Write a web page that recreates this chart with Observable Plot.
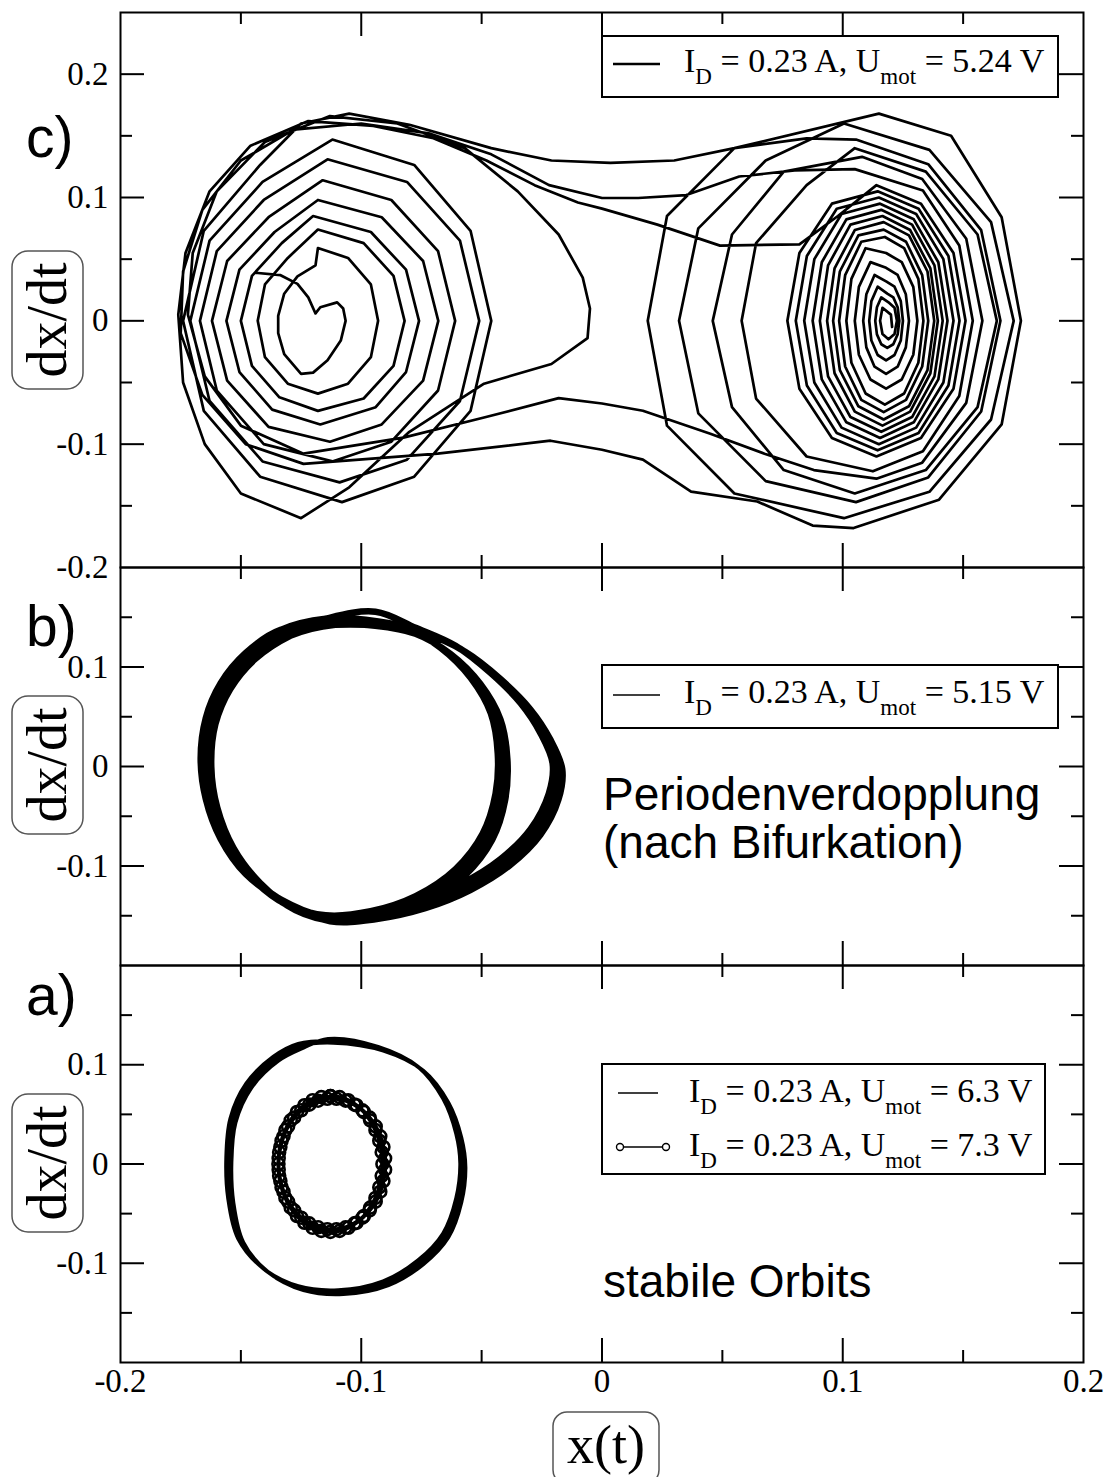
<!DOCTYPE html>
<html><head><meta charset="utf-8">
<script src="https://cdn.jsdelivr.net/npm/d3@7"></script>
<script src="https://cdn.jsdelivr.net/npm/@observablehq/plot@0.6"></script>
<style>
html,body{margin:0;padding:0;background:#fff;}
#fig{position:relative;width:1109px;height:1477px;overflow:hidden;background:#fff;}
.pn{position:absolute;left:0;}
</style></head><body><div id="fig"></div>
<script>
// ---------- axes ----------
const X_DOMAIN = [-0.2, 0.2];
const xMajorTicks = [-0.1, 0, 0.1];
const xMinorTicks = [-0.15, -0.05, 0.05, 0.15];
const xTickValues = [-0.2, -0.1, 0, 0.1, 0.2];
const xTickLabels = ["-0.2", "-0.1", "0", "0.1", "0.2"];

const cYDomain = [-0.2, 0.25];
const cYMajor = [0.2, 0.1, 0, -0.1];
const cYMinor = [0.15, 0.05, -0.05, -0.15];
const cYTickValues = [0.2, 0.1, 0, -0.1, -0.2];
const cYTickLabels = ["0.2", "0.1", "0", "-0.1", "-0.2"];

const bYDomain = [-0.2, 0.2];
const bYMajor = [0.1, 0, -0.1];
const bYMinor = [0.15, 0.05, -0.05, -0.15];
const bYTickValues = [0.1, 0, -0.1];
const bYTickLabels = ["0.1", "0", "-0.1"];

const aYDomain = [-0.2, 0.2];
const aYMajor = [0.1, 0, -0.1];
const aYMinor = [0.15, 0.05, -0.05, -0.15];
const aYTickValues = [0.1, 0, -0.1];
const aYTickLabels = ["0.1", "0", "-0.1"];

// ---------- texts ----------
const panelLetters = ["c)", "b)", "a)"];
const yAxisLabel = "dx/dt";
const xAxisLabel = "x(t)";
const legendC = ["5.24"];
const legendB = ["5.15"];
const legendA = ["6.3", "7.3"];
const noteB = ["Periodenverdopplung", "(nach Bifurkation)"];
const noteA = ["stabile Orbits"];

// ---------- panel c: U_mot = 5.24 V (x, dx/dt) ----------
const cOrbit = [
[-0.144,0.039],[-0.1335,0.037],[-0.1265,0.030],[-0.122,0.019],[-0.119,0.006],[-0.117,0.011],[-0.110,0.015],[-0.1075,0.010],[-0.1065,0.000],[-0.1085,-0.016],[-0.114,-0.032],[-0.120,-0.042],[-0.125,-0.043],[-0.132,-0.027],[-0.1345,-0.010],[-0.1345,0.004],[-0.132,0.022],[-0.1265,0.036],[-0.119,0.045],
[-0.118,0.059],[-0.1055,0.051],[-0.096,0.0295],[-0.093,0.0],[-0.096,-0.0295],[-0.1055,-0.051],[-0.118,-0.059],[-0.1305,-0.051],[-0.140,-0.0295],[-0.143,0.0],[-0.140,0.0295],[-0.1305,0.051],
[-0.118,0.074],[-0.099,0.063],[-0.0866,0.0365],[-0.082,0.0],[-0.0866,-0.0365],[-0.099,-0.063],[-0.118,-0.073],[-0.134,-0.062],[-0.1454,-0.0365],[-0.150,0.0],[-0.1454,0.0365],[-0.133,0.063],
[-0.120,0.085],[-0.096,0.072],[-0.0814,0.0415],[-0.076,0.0],[-0.0814,-0.0415],[-0.094,-0.070],[-0.117,-0.084],[-0.137,-0.072],[-0.1506,-0.0415],[-0.156,0.0],[-0.1506,0.0415],[-0.136,0.072],
[-0.118,0.098],[-0.0915,0.084],[-0.0743,0.0485],[-0.068,0.0],[-0.0743,-0.0485],[-0.0915,-0.084],[-0.113,-0.098],[-0.1385,-0.086],[-0.1557,-0.0485],[-0.162,0.0],[-0.1557,0.0485],[-0.1385,0.084],
[-0.116,0.114],[-0.0875,0.098],[-0.0681,0.0565],[-0.061,0.0],[-0.0681,-0.0565],[-0.0875,-0.098],[-0.112,-0.114],[-0.1405,-0.100],[-0.160,-0.0565],[-0.167,0.0],[-0.160,0.0565],[-0.1405,0.098],
[-0.114,0.131],[-0.081,0.1126],[-0.059,0.065],[-0.051,0.0],[-0.059,-0.065],[-0.081,-0.1126],[-0.109,-0.131],[-0.141,-0.114],[-0.163,-0.065],[-0.171,0.0],[-0.163,0.065],[-0.141,0.1126],
[-0.112,0.147],[-0.078,0.1264],[-0.0546,0.073],[-0.046,0.0],[-0.0546,-0.073],[-0.078,-0.1264],[-0.108,-0.147],[-0.142,-0.1264],[-0.1654,-0.073],[-0.174,0.0],[-0.1654,0.073],[-0.142,0.1264],
[-0.125,0.160],[-0.105,0.168],[-0.080,0.159],[-0.046,0.140],[-0.021,0.130],[0.0035,0.128],[0.030,0.130],[0.055,0.140],[0.085,0.148],[0.1055,0.147],
[0.1355,0.127],[0.1575,0.0735],[0.1655,0.0],[0.1575,-0.0735],[0.1355,-0.127],[0.1055,-0.147],[0.068,-0.130],[0.040,-0.075],[0.032,0.0],[0.040,0.075],[0.068,0.130],
[0.1005,0.160],[0.136,0.1386],[0.1616,0.080],[0.171,0.0],[0.1616,-0.080],[0.136,-0.1386],[0.1005,-0.160],[0.055,-0.140],[0.027,-0.085],[0.019,0.0],[0.027,0.085],[0.055,0.140],
[0.115,0.168],[0.145,0.150],[0.166,0.084],[0.174,0.0],[0.166,-0.084],[0.140,-0.145],[0.1045,-0.168],
[0.0875,-0.166],[0.0645,-0.1465],[0.037,-0.1385],[0.017,-0.1125],[0.0,-0.1045],[-0.0214,-0.0972],[-0.0683,-0.1077],[-0.124,-0.116],
[-0.148,-0.100],[-0.166,-0.060],[-0.175,-0.010],[-0.174,0.040],[-0.166,0.090],[-0.150,0.130],[-0.128,0.155],[-0.100,0.160],
[-0.072,0.152],[-0.046,0.135],[-0.022,0.110],[0.0,0.0996],[0.015,0.0996],[0.035,0.102],[0.057,0.117],[0.080,0.122],[0.105,0.123],
[0.1333,0.1057],[0.1484,0.061],[0.154,0.0],[0.1484,-0.061],[0.1333,-0.1057],[0.1125,-0.122],[0.085,-0.110],[0.064,-0.063],[0.058,0.0],[0.064,0.063],[0.085,0.110],
[0.105,0.140],[0.1345,0.121],[0.156,0.070],[0.164,0.0],[0.156,-0.070],[0.1345,-0.121],[0.105,-0.140],[0.0755,-0.121],[0.054,-0.070],[0.046,0.0],[0.054,0.070],[0.0755,0.121],
[0.108,0.133],[0.133,0.115],[0.1513,0.0665],[0.158,0.0],[0.1513,-0.0665],[0.133,-0.115],[0.114,-0.128],
[0.088,-0.121],[0.0675,-0.1077],[0.045,-0.0915],[0.017,-0.0729],[0.0,-0.067],[-0.018,-0.0627],[-0.049,-0.0784],[-0.0825,-0.0947],[-0.124,-0.1077],
[-0.150,-0.085],[-0.165,-0.045],[-0.172,0.005],[-0.170,0.055],[-0.160,0.105],[-0.140,0.145],[-0.113,0.166],[-0.085,0.160],[-0.057,0.140],[-0.035,0.105],[-0.018,0.070],[-0.008,0.035],[-0.005,0.010],[-0.006,-0.014],[-0.021,-0.035],[-0.049,-0.051],[-0.080,-0.090],[-0.105,-0.135],[-0.125,-0.160],[-0.150,-0.140],[-0.165,-0.100],[-0.174,-0.050],[-0.176,0.005],[-0.173,0.055],[-0.163,0.105],[-0.146,0.142],[-0.122,0.162],[-0.095,0.158],
[-0.070,0.148],[-0.048,0.130],[-0.028,0.110],[-0.010,0.096],[0.0,0.091],[0.023,0.078],[0.049,0.061],[0.082,0.062],[0.098,0.085],[0.114,0.110],
[0.1325,0.095],[0.146,0.055],[0.151,0.0],[0.146,-0.055],[0.1325,-0.095],[0.114,-0.110],[0.0955,-0.095],[0.082,-0.055],[0.077,0.0],[0.082,0.055],[0.0955,0.095],
[0.1145,0.105],[0.1315,0.0909],[0.1439,0.0525],[0.1485,0.0],[0.1439,-0.0525],[0.1315,-0.0909],[0.1145,-0.105],[0.0975,-0.0909],[0.0851,-0.0525],[0.0805,0.0],[0.0851,0.0525],[0.0975,0.0909],
[0.115,0.100],[0.1305,0.0866],[0.1418,0.050],[0.146,0.0],[0.1418,-0.050],[0.1305,-0.0866],[0.115,-0.100],[0.0995,-0.0866],[0.0882,-0.050],[0.084,0.0],[0.0882,0.050],[0.0995,0.0866],
[0.1155,0.095],[0.1295,0.0823],[0.1397,0.0475],[0.1435,0.0],[0.1397,-0.0475],[0.1295,-0.0823],[0.1155,-0.095],[0.1015,-0.0823],[0.0913,-0.0475],[0.0875,0.0],[0.0913,0.0475],[0.1015,0.0823],
[0.116,0.090],[0.1288,0.078],[0.1381,0.045],[0.1415,0.0],[0.1381,-0.045],[0.1288,-0.078],[0.116,-0.090],[0.1032,-0.078],[0.0939,-0.045],[0.0905,0.0],[0.0939,0.045],[0.1032,0.078],
[0.1165,0.085],[0.128,0.0736],[0.1364,0.0425],[0.1395,0.0],[0.1364,-0.0425],[0.128,-0.0736],[0.1165,-0.085],[0.105,-0.0736],[0.0966,-0.0425],[0.0935,0.0],[0.0966,0.0425],[0.105,0.0736],
[0.117,0.080],[0.1275,0.0693],[0.1352,0.040],[0.138,0.0],[0.1352,-0.040],[0.1275,-0.0693],[0.117,-0.080],[0.1065,-0.0693],[0.0988,-0.040],[0.096,0.0],[0.0988,0.040],[0.1065,0.0693],
[0.117,0.074],[0.1263,0.0641],[0.133,0.037],[0.1355,0.0],[0.133,-0.037],[0.1263,-0.0641],[0.117,-0.074],[0.1077,-0.0641],[0.101,-0.037],[0.0985,0.0],[0.101,0.037],[0.1077,0.0641],
[0.1175,0.068],[0.1255,0.0589],[0.1314,0.034],[0.1335,0.0],[0.1314,-0.034],[0.1255,-0.0589],[0.1175,-0.068],[0.1095,-0.0589],[0.1036,-0.034],[0.1015,0.0],[0.1036,0.034],[0.1095,0.0589],
[0.118,0.055],[0.1245,0.0476],[0.1293,0.0275],[0.131,0.0],[0.1293,-0.0275],[0.1245,-0.0476],[0.118,-0.055],[0.1115,-0.0476],[0.1067,-0.0275],[0.105,0.0],[0.1067,0.0275],[0.1115,0.0476],
[0.118,0.043],[0.1228,0.0372],[0.1262,0.0215],[0.1275,0.0],[0.1262,-0.0215],[0.1228,-0.0372],[0.118,-0.043],[0.1132,-0.0372],[0.1098,-0.0215],[0.1085,0.0],[0.1098,0.0215],[0.1132,0.0372],
[0.118,0.032],[0.1215,0.0277],[0.1241,0.016],[0.125,0.0],[0.1241,-0.016],[0.1215,-0.0277],[0.118,-0.032],[0.1145,-0.0277],[0.1119,-0.016],[0.111,0.0],[0.1119,0.016],[0.1145,0.0277],
[0.1185,0.022],[0.121,0.019],[0.1228,0.011],[0.1235,0.0],[0.1228,-0.011],[0.121,-0.019],[0.1185,-0.022],[0.116,-0.019],[0.1142,-0.011],[0.1135,0.0],[0.1142,0.011],[0.116,0.019],
[0.119,0.015],[0.1215,0.0106],[0.1225,0.0],[0.1215,-0.0106],[0.119,-0.015],[0.1165,-0.0106],[0.1155,0.0],[0.1165,0.0106],
[0.120,0.005],[0.1205,-0.005]
];

// ---------- panel b: U_mot = 5.15 V (period doubling) ----------
const bOrbit = [
[-0.1128,0.1455],[-0.0941,0.1444],[-0.0754,0.1364],[-0.0588,0.1182],[-0.0442,0.0909],[-0.0318,0.0606],[-0.0235,0.0303],[-0.0185,0.0],[-0.0201,-0.0303],[-0.0276,-0.0657],[-0.0401,-0.0960],[-0.0567,-0.1212],[-0.0754,-0.1394],[-0.0962,-0.1505],[-0.1149,-0.1525],[-0.1315,-0.1364],[-0.1460,-0.1111],[-0.1564,-0.0758],[-0.1626,-0.0354],[-0.1647,0.0051],[-0.1626,0.0455],[-0.1564,0.0808],[-0.1460,0.1111],[-0.1315,0.1343],
[-0.1128,0.1455],[-0.0962,0.1444],[-0.0795,0.1364],[-0.0650,0.1162],[-0.0525,0.0859],[-0.0442,0.0505],[-0.0413,0.0101],[-0.0422,-0.0303],[-0.0476,-0.0707],[-0.0588,-0.1061],[-0.0754,-0.1333],[-0.0941,-0.1485],[-0.1128,-0.1525],[-0.1294,-0.1414],[-0.1440,-0.1141],[-0.1551,-0.0788],[-0.1618,-0.0384],[-0.1643,0.0030],[-0.1626,0.0455],[-0.1564,0.0808],[-0.1460,0.1111],[-0.1315,0.1343],
[-0.1148,0.1485],[-0.0941,0.1556],[-0.0774,0.1394],[-0.0608,0.1212],[-0.0462,0.0939],[-0.0338,0.0636],[-0.0255,0.0333],[-0.0205,0.003],[-0.0221,-0.0273],[-0.0296,-0.0627],[-0.0421,-0.0930],[-0.0587,-0.1182],[-0.0774,-0.1364],[-0.0982,-0.1475],[-0.1169,-0.1495],[-0.1335,-0.1334],[-0.1480,-0.1081],[-0.1584,-0.0728],[-0.1646,-0.0324],[-0.1667,0.0081],[-0.1646,0.0485],[-0.1584,0.0838],[-0.1480,0.1141],[-0.1335,0.1373],
[-0.1148,0.1485],[-0.0982,0.1474],[-0.0815,0.1394],[-0.0670,0.1192],[-0.0545,0.0889],[-0.0462,0.0535],[-0.0433,0.0131],[-0.0442,-0.0273],[-0.0496,-0.0677],[-0.0608,-0.1031],[-0.0774,-0.1303],[-0.0961,-0.1455],[-0.1148,-0.1495],[-0.1314,-0.1384],[-0.1460,-0.1111],[-0.1571,-0.0758],[-0.1638,-0.0354],[-0.1663,0.0060],[-0.1646,0.0485],[-0.1584,0.0838],[-0.1480,0.1141],[-0.1335,0.1373],
[-0.1108,0.1425],[-0.0921,0.1414],[-0.0734,0.1334],[-0.0568,0.1152],[-0.0422,0.0879],[-0.0298,0.0576],[-0.0215,0.0273],[-0.0165,-0.003],[-0.0181,-0.0333],[-0.0256,-0.0687],[-0.0381,-0.0990],[-0.0547,-0.1242],[-0.0734,-0.1424],[-0.0942,-0.1535],[-0.1129,-0.1555],[-0.1295,-0.1394],[-0.1440,-0.1141],[-0.1544,-0.0788],[-0.1606,-0.0384],[-0.1627,0.0021],[-0.1606,0.0425],[-0.1544,0.0778],[-0.1440,0.1081],[-0.1295,0.1313],
[-0.1108,0.1425],[-0.0942,0.1414],[-0.0775,0.1334],[-0.0630,0.1132],[-0.0505,0.0829],[-0.0422,0.0475],[-0.0393,0.0071],[-0.0402,-0.0333],[-0.0456,-0.0737],[-0.0568,-0.1091],[-0.0734,-0.1363],[-0.0921,-0.1515],[-0.1108,-0.1555],[-0.1274,-0.1444],[-0.1420,-0.1171],[-0.1531,-0.0818],[-0.1598,-0.0414],[-0.1623,0.0000],[-0.1606,0.0425],[-0.1544,0.0778],[-0.1440,0.1081],[-0.1295,0.1313],
[-0.1128,0.1455]
];

// ---------- panel a: U_mot = 6.3 V (large orbit) ----------
const aOrbit63 = [
[-0.1128,0.1241],[-0.0920,0.1161],[-0.0754,0.0960],[-0.0650,0.0638],[-0.0596,0.0286],[-0.0579,-0.0015],[-0.0596,-0.0367],[-0.0650,-0.0719],[-0.0754,-0.0990],[-0.0899,-0.1201],[-0.1086,-0.1291],[-0.1252,-0.1251],[-0.1398,-0.1070],[-0.1502,-0.0769],[-0.1543,-0.0367],[-0.1551,0.0035],[-0.1534,0.0437],[-0.1468,0.0789],[-0.1356,0.1060],[-0.1252,0.1191],
[-0.1116,0.1221],[-0.0908,0.1141],[-0.0742,0.0940],[-0.0638,0.0618],[-0.0584,0.0266],[-0.0567,-0.0035],[-0.0584,-0.0387],[-0.0638,-0.0739],[-0.0742,-0.1010],[-0.0887,-0.1221],[-0.1074,-0.1311],[-0.1240,-0.1271],[-0.1386,-0.1090],[-0.1490,-0.0789],[-0.1531,-0.0387],[-0.1539,0.0015],[-0.1522,0.0417],[-0.1456,0.0769],[-0.1344,0.1040],[-0.1240,0.1171],
[-0.1138,0.1261],[-0.0930,0.1181],[-0.0764,0.0980],[-0.0660,0.0658],[-0.0606,0.0306],[-0.0589,0.0005],[-0.0606,-0.0347],[-0.0660,-0.0699],[-0.0764,-0.0970],[-0.0909,-0.1181],[-0.1096,-0.1271],[-0.1262,-0.1231],[-0.1408,-0.1050],[-0.1512,-0.0749],[-0.1553,-0.0347],[-0.1561,0.0055],[-0.1544,0.0457],[-0.1478,0.0809],[-0.1366,0.1080],[-0.1262,0.1211],
[-0.1128,0.1241]
];

// ---------- panel a: U_mot = 7.3 V (small orbit, with markers) ----------
const aOrbit73 = [
[-0.1128,0.0684],[-0.1090,0.0674],[-0.1054,0.0643],[-0.1020,0.0592],[-0.0989,0.0524],[-0.0963,0.0440],[-0.0941,0.0342],[-0.0925,0.0234],[-0.0915,0.0119],[-0.0912,0.0],[-0.0915,-0.0119],[-0.0925,-0.0234],[-0.0941,-0.0342],[-0.0963,-0.0440],[-0.0989,-0.0524],[-0.1020,-0.0592],[-0.1054,-0.0643],[-0.1090,-0.0674],[-0.1128,-0.0684],[-0.1166,-0.0674],[-0.1202,-0.0643],[-0.1236,-0.0592],[-0.1267,-0.0524],[-0.1293,-0.0440],[-0.1315,-0.0342],[-0.1331,-0.0234],[-0.1341,-0.0119],[-0.1344,0.0],[-0.1341,0.0119],[-0.1331,0.0234],[-0.1315,0.0342],[-0.1293,0.0440],[-0.1267,0.0524],[-0.1236,0.0592],[-0.1202,0.0643],[-0.1166,0.0674],
[-0.1103,0.0657],[-0.1065,0.0638],[-0.1028,0.0598],[-0.0995,0.0541],[-0.0965,0.0467],[-0.0940,0.0379],[-0.0921,0.0279],[-0.0908,0.0171],[-0.0901,0.0057],[-0.0901,-0.0057],[-0.0908,-0.0171],[-0.0921,-0.0279],[-0.0940,-0.0379],[-0.0965,-0.0467],[-0.0995,-0.0541],[-0.1028,-0.0598],[-0.1065,-0.0638],[-0.1103,-0.0657],[-0.1141,-0.0657],[-0.1179,-0.0638],[-0.1216,-0.0598],[-0.1249,-0.0541],[-0.1279,-0.0467],[-0.1304,-0.0379],[-0.1323,-0.0279],[-0.1336,-0.0171],[-0.1343,-0.0057],[-0.1343,0.0057],[-0.1336,0.0171],[-0.1323,0.0279],[-0.1304,0.0379],[-0.1279,0.0467],[-0.1249,0.0541],[-0.1216,0.0598],[-0.1179,0.0638],[-0.1141,0.0657],
[-0.1128,0.0684]
];

// ---------- layout ----------
const FIG_W = 1109, PLOT_L = 120, PLOT_R = 1083, MT = 12;
const SERIF = "Liberation Serif, Times New Roman, serif";
const SANS = "Liberation Sans, Arial, sans-serif";

function panel({yDomain, innerH, marginBottom, yMajor, yMinor, yTickValues, yTickLabels, marks, xLabels}) {
  const kx = (X_DOMAIN[1] - X_DOMAIN[0]) / (PLOT_R - PLOT_L);
  const ky = (yDomain[1] - yDomain[0]) / innerH;
  const tk = [];
  const S = {stroke: "#000", strokeWidth: 2};
  for (const [ticks, len] of [[yMajor, 24], [yMinor, 12]]) {
    tk.push(Plot.ruleY(ticks, {y: d => d, x1: () => X_DOMAIN[0], x2: () => X_DOMAIN[0] + len * kx, ...S}));
    tk.push(Plot.ruleY(ticks, {y: d => d, x1: () => X_DOMAIN[1] - len * kx, x2: () => X_DOMAIN[1], ...S}));
  }
  for (const [ticks, len] of [[xMajorTicks, 24], [xMinorTicks, 12]]) {
    tk.push(Plot.ruleX(ticks, {x: d => d, y1: () => yDomain[0], y2: () => yDomain[0] + len * ky, ...S}));
    tk.push(Plot.ruleX(ticks, {x: d => d, y1: () => yDomain[1] - len * ky, y2: () => yDomain[1], ...S}));
  }
  const labels = [Plot.text(yTickValues, {y: d => d, text: (d, i) => yTickLabels[i], frameAnchor: "left", dx: -12, textAnchor: "end", fontSize: 33, fontFamily: SERIF, fill: "#000"})];
  if (xLabels) labels.push(Plot.text(xTickValues, {x: d => d, text: (d, i) => xTickLabels[i], frameAnchor: "bottom", dy: 29, fontSize: 33, fontFamily: SERIF, fill: "#000"}));
  return Plot.plot({
    width: FIG_W, height: MT + innerH + marginBottom,
    marginLeft: PLOT_L, marginRight: FIG_W - PLOT_R, marginTop: MT, marginBottom,
    x: {domain: X_DOMAIN, axis: null},
    y: {domain: yDomain, axis: null},
    style: {background: "transparent", overflow: "visible"},
    marks: [...marks, ...tk, Plot.frame({stroke: "#000", strokeWidth: 2}), ...labels]
  });
}

const fig = document.getElementById("fig");
function place(svg, top) {
  const d = document.createElement("div");
  d.className = "pn"; d.style.top = top + "px";
  d.appendChild(svg); fig.appendChild(d);
}

const P = d => d[0], Q = d => d[1];
place(panel({yDomain: cYDomain, innerH: 555, marginBottom: 13, yMajor: cYMajor, yMinor: cYMinor, yTickValues: cYTickValues, yTickLabels: cYTickLabels,
  marks: [Plot.line(cOrbit, {x: P, y: Q, stroke: "#000", strokeWidth: 2.7, strokeLinejoin: "round"})]}), 0);
place(panel({yDomain: bYDomain, innerH: 398, marginBottom: 13, yMajor: bYMajor, yMinor: bYMinor, yTickValues: bYTickValues, yTickLabels: bYTickLabels,
  marks: [Plot.line(bOrbit, {x: P, y: Q, stroke: "#000", strokeWidth: 6.5, curve: "catmull-rom"})]}), 555);
place(panel({yDomain: aYDomain, innerH: 397, marginBottom: 115, yMajor: aYMajor, yMinor: aYMinor, yTickValues: aYTickValues, yTickLabels: aYTickLabels, xLabels: true,
  marks: [
    Plot.line(aOrbit63, {x: P, y: Q, stroke: "#000", strokeWidth: 3.8, curve: "catmull-rom"}),
    Plot.line(aOrbit73, {x: P, y: Q, stroke: "#000", strokeWidth: 4, curve: "catmull-rom"}),
    Plot.dot(aOrbit73, {x: P, y: Q, r: 6, stroke: "#000", fill: "none", strokeWidth: 2.6})
  ]}), 953);

// ---------- overlay: labels, legends, notes ----------
const ov = d3.select(fig).append("svg").attr("width", FIG_W).attr("height", 1477)
  .style("position", "absolute").style("left", 0).style("top", 0).style("overflow", "visible");

// panel letters
[[panelLetters[0], 157], [panelLetters[1], 646], [panelLetters[2], 1015]].forEach(([t, y]) =>
  ov.append("text").attr("x", 26).attr("y", y).attr("font-family", SANS).attr("font-size", 57).text(t));

// y label boxes
[320, 765, 1163].forEach(cy => {
  ov.append("rect").attr("x", 12).attr("y", cy - 69).attr("width", 71).attr("height", 138).attr("rx", 16)
    .attr("fill", "none").attr("stroke", "#555").attr("stroke-width", 1.5);
  ov.append("text").attr("transform", `translate(66,${cy}) rotate(-90)`).attr("text-anchor", "middle")
    .attr("font-family", SERIF).attr("font-size", 56).text(yAxisLabel);
});

// x label box
ov.append("rect").attr("x", 553).attr("y", 1412).attr("width", 106).attr("height", 72).attr("rx", 14)
  .attr("fill", "none").attr("stroke", "#555").attr("stroke-width", 1.5);
ov.append("text").attr("x", 606).attr("y", 1463).attr("text-anchor", "middle").attr("font-family", SERIF)
  .attr("font-size", 54).text(xAxisLabel);

// notes
noteB.forEach((t, i) => ov.append("text").attr("x", 603).attr("y", 810 + i * 48).attr("font-family", SANS).attr("font-size", 46).text(t));
noteA.forEach((t, i) => ov.append("text").attr("x", 603).attr("y", 1297 + i * 48).attr("font-family", SANS).attr("font-size", 46).text(t));

// legends
function legendText(x, y, volt) {
  const t = ov.append("text").attr("x", x).attr("y", y).attr("font-family", SERIF).attr("font-size", 34).style("white-space", "pre");
  t.append("tspan").text("I");
  t.append("tspan").attr("font-size", 23).attr("dy", 12).text("D");
  t.append("tspan").attr("dy", -12).text(" = 0.23 A, U");
  t.append("tspan").attr("font-size", 23).attr("dy", 12).text("mot");
  t.append("tspan").attr("dy", -12).text(` = ${volt} V`);
}
function box(x, y, w, h) {
  ov.append("rect").attr("x", x).attr("y", y).attr("width", w).attr("height", h).attr("fill", "#fff").attr("stroke", "#000").attr("stroke-width", 2);
}
box(602, 36, 456, 61);
ov.append("line").attr("x1", 613).attr("x2", 660).attr("y1", 64).attr("y2", 64).attr("stroke", "#000").attr("stroke-width", 2.7);
legendText(684, 72, legendC[0]);

box(602, 665, 456, 63);
ov.append("line").attr("x1", 613).attr("x2", 660).attr("y1", 695).attr("y2", 695).attr("stroke", "#000").attr("stroke-width", 1.4);
legendText(684, 703, legendB[0]);

box(602, 1064, 443, 110);
ov.append("line").attr("x1", 618).attr("x2", 658).attr("y1", 1093).attr("y2", 1093).attr("stroke", "#000").attr("stroke-width", 1.4);
legendText(689, 1102, legendA[0]);
ov.append("line").attr("x1", 620).attr("x2", 666).attr("y1", 1147).attr("y2", 1147).attr("stroke", "#000").attr("stroke-width", 1.4);
[620, 666].forEach(cx => ov.append("circle").attr("cx", cx).attr("cy", 1147).attr("r", 3.5).attr("fill", "#fff").attr("stroke", "#000").attr("stroke-width", 1.4));
legendText(689, 1156, legendA[1]);
</script></body></html>
